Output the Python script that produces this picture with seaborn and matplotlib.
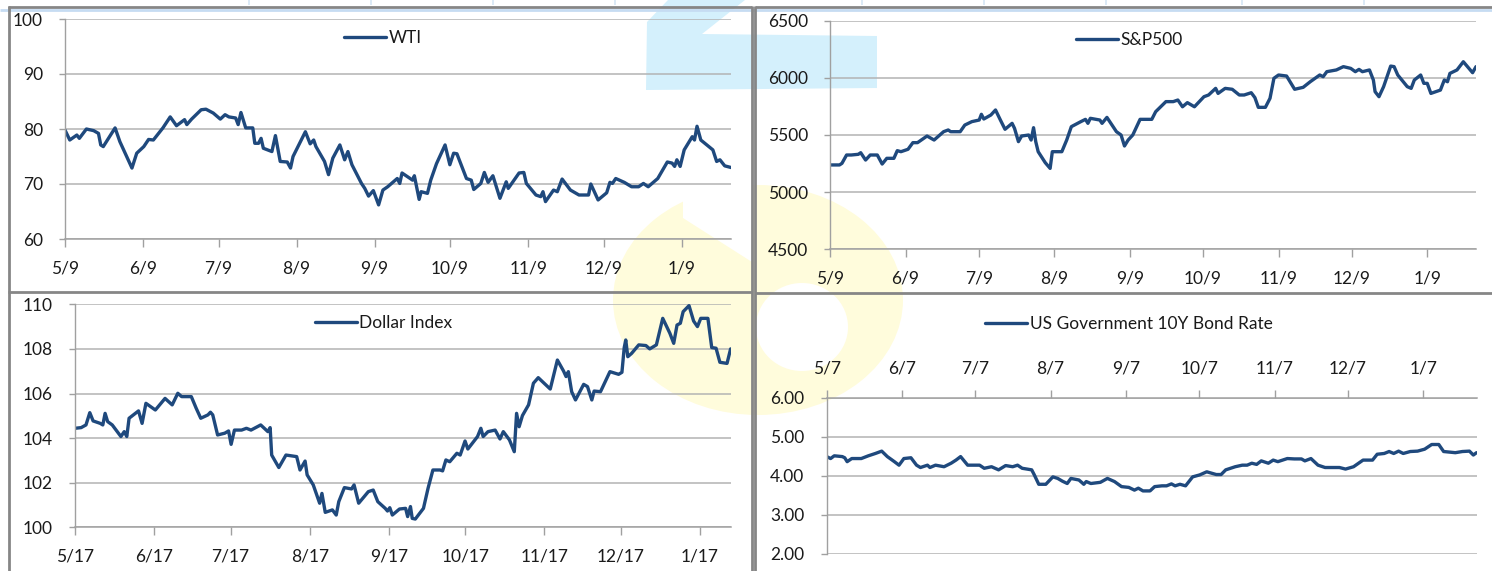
import numpy as np
import pandas as pd
import matplotlib
matplotlib.use("Agg")
import matplotlib.pyplot as plt
from matplotlib.lines import Line2D
from matplotlib.patches import Polygon, Ellipse
import seaborn as sns

# ---- data: days after the first axis date, value ----
wti_start = "2024-05-09"
wti_days = [0, 1.9, 4.7, 5.7, 8.5, 11.4, 13.3, 14.2, 15.2, 19.9,
            21.8, 26.6, 28.5, 31.3, 33.2, 35.1, 38.9, 41.8, 44.3, 47.5,
            48.4, 50.3, 54.1, 56.0, 58.9, 61.7, 63.6, 65.1, 67.8, 68.8,
            69.9, 71.8, 74.6, 75.4, 76.9, 77.9, 78.8, 82.2, 83.6, 85.5,
            88.3, 89.6, 90.6, 95.5, 97.4, 98.8, 99.7, 103.1, 104.7, 106.4,
            109.2, 111.1, 112.4, 114.0, 117.8, 119.1, 120.6, 122.5, 124.6, 126.3,
            128.2, 132.0, 133.0, 133.9, 138.1, 138.8, 140.7, 141.5, 144.0, 145.3,
            147.6, 151.0, 152.9, 154.4, 155.7, 159.5, 161.4, 162.4, 165.2, 166.6,
            168.1, 170.0, 172.8, 175.3, 176.1, 180.4, 182.3, 183.3, 187.1, 189.0,
            189.9, 190.9, 194.1, 195.6, 197.5, 200.8, 204.2, 208.0, 208.9, 210.3,
            211.8, 215.2, 216.5, 217.5, 218.8, 222.2, 225.1, 227.9, 229.8, 231.7,
            235.5, 239.3, 241.2, 242.2, 243.1, 244.4, 246.0, 249.2, 250.1, 251.1,
            252.6, 257.4, 258.9, 260.2, 262.1, 264.6]
wti_vals = [79.8, 78.0, 78.9, 78.3, 80.0, 79.7, 79.2, 77.1, 76.8, 80.2,
            77.7, 72.9, 75.6, 76.8, 78.1, 78.0, 80.2, 82.2, 80.6, 81.7,
            80.8, 81.8, 83.5, 83.6, 82.9, 81.8, 82.6, 82.2, 82.0, 80.8,
            83.0, 80.2, 80.2, 77.4, 77.4, 78.3, 76.5, 75.9, 78.8, 74.1,
            74.0, 72.9, 75.0, 79.5, 77.3, 78.0, 76.8, 74.1, 71.7, 74.7,
            77.1, 74.4, 75.9, 73.5, 70.1, 69.2, 67.8, 68.8, 66.2, 68.9,
            69.5, 71.0, 70.1, 72.0, 70.7, 71.5, 67.2, 68.6, 68.3, 70.7,
            73.7, 77.1, 73.5, 75.6, 75.5, 71.0, 70.7, 69.0, 70.1, 72.1,
            70.3, 71.5, 67.4, 70.4, 69.2, 72.0, 72.1, 70.1, 68.0, 67.7,
            68.6, 66.8, 68.9, 68.6, 70.9, 68.9, 68.0, 68.0, 70.0, 68.6,
            67.1, 68.4, 70.3, 70.1, 71.0, 70.3, 69.5, 69.5, 70.1, 69.5,
            71.0, 74.0, 73.8, 73.2, 74.4, 73.2, 76.2, 78.6, 78.0, 80.5,
            78.0, 76.2, 74.1, 74.4, 73.3, 73.0]

spx_start = "2024-05-09"
spx_days = [0, 3.9, 4.9, 6.8, 8.7, 11.6, 12.6, 14.6, 16.5, 19.4,
            21.4, 23.3, 26.2, 27.6, 29.1, 32.0, 34.0, 35.9, 39.8, 42.7,
            46.6, 48.5, 49.5, 53.4, 55.3, 58.2, 61.2, 62.1, 63.1, 66.0,
            67.9, 69.9, 71.8, 74.7, 75.7, 77.3, 78.6, 81.5, 82.5, 83.5,
            84.4, 85.4, 88.3, 90.3, 91.2, 95.1, 97.1, 99.0, 102.9, 104.8,
            105.8, 106.8, 110.7, 111.6, 113.6, 117.5, 119.4, 120.8, 122.3, 124.2,
            127.2, 132.0, 133.6, 137.8, 140.8, 142.7, 144.6, 146.6, 149.5, 153.4,
            155.3, 158.2, 159.2, 162.1, 165.0, 167.9, 169.9, 172.8, 174.3, 175.7,
            178.6, 180.5, 182.1, 184.0, 187.3, 190.6, 194.1, 197.0, 200.9, 202.3,
            203.8, 207.7, 210.6, 213.6, 215.5, 217.0, 218.4, 221.3, 222.9, 223.6,
            225.2, 227.1, 230.0, 231.4, 232.9, 236.8, 238.4, 239.7, 242.3, 243.6,
            245.0, 246.5, 250.4, 252.0, 253.3, 254.3, 257.2, 259.8, 262.1, 263.6,
            265.0]
spx_vals = [5238, 5238, 5252, 5325, 5325, 5331, 5345, 5281, 5325, 5325,
            5246, 5296, 5296, 5363, 5354, 5375, 5433, 5433, 5491, 5456,
            5529, 5544, 5529, 5529, 5587, 5617, 5631, 5681, 5640, 5675,
            5719, 5631, 5550, 5602, 5558, 5442, 5491, 5500, 5456, 5564,
            5442, 5354, 5258, 5208, 5354, 5354, 5456, 5573, 5617, 5637,
            5602, 5646, 5631, 5602, 5654, 5529, 5500, 5404, 5456, 5500,
            5637, 5637, 5704, 5792, 5792, 5806, 5747, 5783, 5747, 5835,
            5850, 5908, 5864, 5908, 5900, 5850, 5850, 5870, 5827, 5742,
            5742, 5821, 5996, 6025, 6016, 5900, 5917, 5966, 6025, 6010,
            6054, 6069, 6098, 6083, 6054, 6074, 6054, 6069, 5981, 5879,
            5835, 5923, 6103, 6098, 6025, 5923, 5908, 5981, 6025, 5952,
            5952, 5864, 5893, 5981, 5966, 6039, 6069, 6141, 6083, 6045,
            6098]

dxy_start = "2024-05-17"
dxy_days = [0, 2.4, 4.3, 5.8, 7.1, 9.9, 10.9, 11.8, 12.8, 14.6,
            18.0, 19.3, 20.3, 21.2, 24.9, 26.3, 27.8, 31.5, 35.3, 38.1,
            40.3, 41.8, 43.7, 45.6, 47.5, 49.3, 52.1, 53.1, 54.0, 55.9,
            58.7, 60.2, 61.2, 62.5, 65.3, 67.2, 69.0, 72.8, 75.6, 76.5,
            77.1, 79.9, 82.7, 86.9, 88.2, 90.2, 91.0, 93.4, 95.9, 96.8,
            98.1, 100.9, 102.4, 103.4, 105.6, 108.4, 109.4, 111.2, 115.0, 116.9,
            118.7, 121.6, 122.5, 123.4, 124.4, 127.2, 129.6, 130.4, 131.5, 132.2,
            133.4, 136.6, 138.4, 140.3, 143.1, 144.1, 145.4, 146.9, 149.7, 151.0,
            152.9, 154.0, 157.8, 159.1, 160.0, 161.9, 164.7, 166.6, 167.9, 170.3,
            172.2, 173.1, 174.1, 175.4, 177.8, 179.7, 181.6, 184.4, 186.3, 189.1,
            191.5, 192.5, 193.4, 194.7, 196.2, 199.4, 200.9, 202.6, 203.5, 206.0,
            209.7, 213.1, 214.4, 215.3, 215.9, 216.7, 218.2, 221.0, 223.8, 225.3,
            227.9, 230.4, 233.2, 234.7, 236.0, 237.3, 238.4, 240.7, 242.5, 244.0,
            245.3, 248.1, 249.6, 251.3, 252.8, 255.6, 257.0]
dxy_vals = [104.44, 104.47, 104.59, 105.14, 104.77, 104.66, 104.59, 105.11, 104.74, 104.59,
            104.07, 104.29, 104.07, 104.89, 105.22, 104.66, 105.56, 105.26, 105.78, 105.49,
            106.01, 105.86, 105.86, 105.86, 105.34, 104.89, 105.04, 105.16, 105.04, 104.14,
            104.22, 104.32, 103.72, 104.36, 104.36, 104.44, 104.36, 104.59, 104.29, 104.47,
            103.24, 102.68, 103.24, 103.17, 102.57, 102.97, 102.35, 101.90, 101.08, 101.52,
            100.67, 100.78, 100.55, 101.15, 101.78, 101.72, 101.90, 101.08, 101.60, 101.67,
            101.15, 100.85, 100.73, 100.88, 100.55, 100.82, 100.85, 100.48, 100.93, 100.40,
            100.37, 100.85, 101.75, 102.57, 102.57, 102.53, 103.02, 102.94, 103.32, 103.24,
            103.87, 103.51, 104.07, 104.44, 104.07, 104.29, 104.36, 103.96, 104.29, 103.92,
            103.39, 105.11, 104.51, 105.01, 105.49, 106.46, 106.71, 106.41, 106.20, 107.50,
            107.01, 106.76, 106.98, 106.08, 105.71, 106.41, 106.31, 105.71, 106.11, 106.08,
            106.98, 106.86, 106.95, 108.06, 108.40, 107.65, 107.80, 108.18, 108.15, 108.00,
            108.18, 109.37, 108.70, 108.25, 109.07, 109.15, 109.67, 109.94, 109.25, 109.00,
            109.37, 109.37, 108.06, 108.03, 107.40, 107.35, 108.00]

ust_start = "2024-05-07"
ust_days = [0, 1.6, 3.1, 6.4, 7.4, 8.4, 10.3, 14.2, 17.1, 20.0,
            22.6, 24.9, 27.8, 29.7, 31.7, 34.6, 36.9, 38.5, 41.4, 42.4,
            44.7, 48.2, 51.1, 53.1, 55.0, 57.9, 62.8, 64.7, 67.7, 70.6,
            73.5, 76.4, 78.4, 80.3, 84.2, 85.2, 87.1, 90.0, 92.9, 94.9,
            96.8, 98.8, 100.3, 103.6, 105.6, 106.6, 108.5, 112.4, 115.3, 118.2,
            121.1, 124.1, 126.4, 128.0, 129.9, 132.8, 134.7, 137.7, 139.6, 141.6,
            143.1, 145.1, 147.4, 150.3, 153.2, 156.1, 160.0, 162.0, 163.9, 167.8,
            170.7, 172.7, 174.6, 176.6, 178.5, 181.4, 183.4, 185.3, 189.2, 192.1,
            195.0, 196.4, 198.9, 201.8, 204.7, 207.7, 210.6, 213.1, 216.4, 220.3,
            224.2, 226.1, 229.0, 231.0, 232.9, 234.9, 236.8, 239.7, 242.7, 245.6,
            248.5, 251.4, 253.4, 258.2, 261.1, 264.0, 265.6, 266.9]
ust_vals = [4.49, 4.44, 4.51, 4.49, 4.46, 4.36, 4.44, 4.44, 4.51, 4.57,
            4.63, 4.49, 4.36, 4.27, 4.44, 4.46, 4.27, 4.21, 4.27, 4.21,
            4.27, 4.23, 4.32, 4.40, 4.49, 4.27, 4.27, 4.19, 4.23, 4.15,
            4.26, 4.23, 4.27, 4.19, 4.15, 4.03, 3.78, 3.78, 3.97, 3.93,
            3.86, 3.80, 3.93, 3.89, 3.78, 3.85, 3.80, 3.83, 3.93, 3.85,
            3.72, 3.70, 3.63, 3.68, 3.61, 3.61, 3.72, 3.74, 3.74, 3.79,
            3.74, 3.78, 3.74, 3.97, 4.02, 4.10, 4.03, 4.03, 4.15, 4.23,
            4.27, 4.27, 4.32, 4.29, 4.38, 4.32, 4.40, 4.36, 4.44, 4.43,
            4.43, 4.38, 4.44, 4.27, 4.21, 4.21, 4.21, 4.17, 4.23, 4.40,
            4.40, 4.55, 4.57, 4.62, 4.57, 4.63, 4.57, 4.62, 4.63, 4.68,
            4.80, 4.80, 4.62, 4.59, 4.62, 4.63, 4.53, 4.59]

wti_yticks = [60, 70, 80, 90, 100]
spx_yticks = [4500, 5000, 5500, 6000, 6500]
dxy_yticks = [100, 102, 104, 106, 108, 110]
ust_yticks = [2.0, 3.0, 4.0, 5.0, 6.0]

LINE = "#1f497d"
GRID = "#b3b3b3"
AXIS = "#a0a0a0"
FRAME = "#868686"
TXT = "#1a1a1a"

W, H = 1492, 571

sns.set_theme(style="white")
plt.rcParams["font.family"] = ["Lato", "DejaVu Sans"]

fig = plt.figure(figsize=(W / 100, H / 100), dpi=100)
fig.patch.set_facecolor("white")


def px_box(x0, y_top, x1, y_bot):
    return [x0 / W, 1 - y_bot / H, (x1 - x0) / W, (y_bot - y_top) / H]


def fig_line(xs, ys, color, lw):
    fig.add_artist(Line2D([x / W for x in xs], [1 - y / H for y in ys],
                          color=color, lw=lw, transform=fig.transFigure,
                          solid_capstyle="butt"))


def fig_poly(pts, color, z):
    fig.add_artist(Polygon([(x / W, 1 - y / H) for x, y in pts], closed=True,
                           facecolor=color, edgecolor="none",
                           transform=fig.transFigure, zorder=z))


# faint logo watermark behind the charts
fig_poly([(646, 90), (647, 22), (668, 0), (745, 0), (702, 34), (877, 36), (877, 88)],
         "#d4f0fc", -5)
fig.add_artist(Ellipse((758 / W, 1 - 300 / H), 290 / W, 230 / H,
                       facecolor="#fffcdc", edgecolor="none",
                       transform=fig.transFigure, zorder=-5))
fig.add_artist(Ellipse((802 / W, 1 - 327 / H), 92 / W, 88 / H,
                       facecolor="white", edgecolor="none",
                       transform=fig.transFigure, zorder=-4))
fig_poly([(683, 175), (752, 175), (752, 262), (683, 218)], "white", -4)


def draw_panel(ax, start, days, vals, label, yticks, yfmt, legend_xy, top_axis=False):
    t0 = pd.Timestamp(start)
    df = pd.DataFrame({"date": t0 + pd.to_timedelta(days, unit="D"), "value": vals})
    sns.lineplot(data=df, x="date", y="value", ax=ax, color=LINE, lw=2.4,
                 label=label, estimator=None)
    t1 = df["date"].iloc[-1]
    ax.set_xlim(t0, t1)
    ax.set_ylim(yticks[0], yticks[-1])
    ax.set_yticks(yticks)
    ax.set_yticklabels([yfmt.format(v) for v in yticks])
    months = pd.date_range(t0, t1, freq=pd.DateOffset(months=1))
    ax.set_xticks(months)
    ax.set_xticklabels([f"{d.month}/{d.day}" for d in months])
    ax.set_xlabel("")
    ax.set_ylabel("")
    ax.set_facecolor("none")

    ax.yaxis.grid(True, color=GRID, lw=1.1)
    ax.xaxis.grid(False)
    for s in ax.spines.values():
        s.set_visible(False)
    ax.spines["left"].set_visible(True)
    ax.spines["left"].set_color(AXIS)
    ax.spines["left"].set_linewidth(1.0)
    xs = "top" if top_axis else "bottom"
    ax.spines[xs].set_visible(True)
    ax.spines[xs].set_color(AXIS)
    ax.spines[xs].set_linewidth(1.1)

    ax.tick_params(axis="y", left=True, direction="out", length=4.5, width=1,
                   color=AXIS, labelsize=12.5, labelcolor=TXT, pad=11.5)
    ax.tick_params(axis="x", direction="out", length=5.5, width=1, color=AXIS,
                   labelsize=12.5, labelcolor=TXT, pad=10)
    if top_axis:
        ax.xaxis.tick_top()
        ax.tick_params(axis="x", top=True, bottom=False, labeltop=True, labelbottom=False)
    else:
        ax.tick_params(axis="x", bottom=True, top=False)

    ax.legend(loc="center", bbox_to_anchor=legend_xy, frameon=False,
              fontsize=12.5, handlelength=2.4, handletextpad=0.15,
              borderaxespad=0, labelcolor=TXT)


ax_wti = fig.add_axes(px_box(65, 19, 731, 239))
draw_panel(ax_wti, wti_start, wti_days, wti_vals, "WTI", wti_yticks, "{:.0f}", (0.477, 0.914))

ax_spx = fig.add_axes(px_box(830, 20.7, 1476, 249.3))
draw_panel(ax_spx, spx_start, spx_days, spx_vals, "S&P500", spx_yticks, "{:.0f}", (0.464, 0.915))

ax_dxy = fig.add_axes(px_box(75, 304.3, 730.6, 527.3))
draw_panel(ax_dxy, dxy_start, dxy_days, dxy_vals, "Dollar Index", dxy_yticks, "{:.0f}", (0.471, 0.916))

ax_ust = fig.add_axes(px_box(826.7, 397.7, 1476.5, 553.7))
draw_panel(ax_ust, ust_start, ust_days, ust_vals, "US Government 10Y Bond Rate", ust_yticks,
           "{:.2f}", (0.465, 1.472), top_axis=True)

# panel frames and the table remnants at the very top
fig_line([0, W], [9.5, 9.5], "#c6dcf2", 2)
for x in [249, 371, 493, 615, 862, 984, 1106, 1242, 1364]:
    fig_line([x, x], [0, 5], "#d6e6f5", 1.2)
fig_line([8, 752], [6.5, 6.5], FRAME, 2)
fig_line([755, W], [6.5, 6.5], FRAME, 2)
fig_line([9, 9], [6, H], FRAME, 2)
fig_line([751.5, 751.5], [6, H], FRAME, 2)
fig_line([755, 755], [6, H], FRAME, 2)
fig_line([8, 752], [291.5, 291.5], FRAME, 2)
fig_line([755, W], [292.5, 292.5], FRAME, 2)

fig.savefig("out.png", dpi=100)
